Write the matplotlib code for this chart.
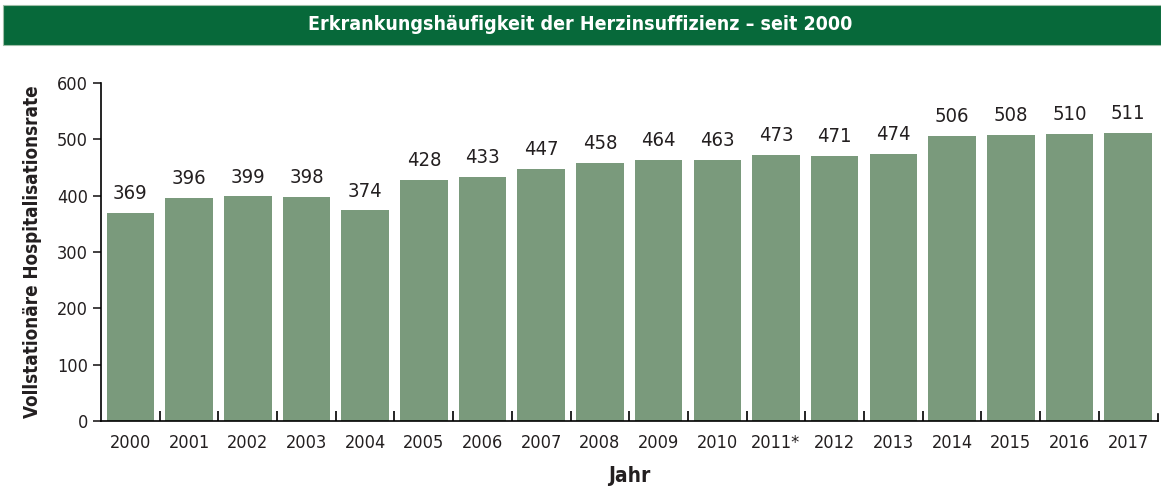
import numpy as np
import matplotlib.pyplot as plt
from matplotlib.patches import Rectangle

# Daten
jahre = ['2000', '2001', '2002', '2003', '2004', '2005', '2006', '2007', '2008',
         '2009', '2010', '2011*', '2012', '2013', '2014', '2015', '2016', '2017']
rate = [369, 396, 399, 398, 374, 428, 433, 447, 458,
        464, 463, 473, 471, 474, 506, 508, 510, 511]

plt.rcParams['font.family'] = ['DejaVu Sans']
plt.rcParams['font.stretch'] = 'condensed'
textfarbe = '#231f20'

fig = plt.figure(figsize=(11.61, 4.88), dpi=100)

# Titelbalken
fig.patches.append(Rectangle((0.003, 0.908), 0.997, 0.082, transform=fig.transFigure,
                             facecolor='#07693a', edgecolor='#9fbfa8', linewidth=0.8))
fig.text(0.5, 0.949, 'Erkrankungshäufigkeit der Herzinsuffizienz – seit 2000',
         color='white', fontsize=14, fontweight='bold', ha='center', va='center')

ax = fig.add_axes([0.087, 0.137, 0.910, 0.693])
x = np.arange(len(jahre))
balken = ax.bar(x, rate, width=0.81, color='#7a9a7c')
ax.bar_label(balken, padding=7, fontsize=14.5, color=textfarbe)

ax.set_xlim(-0.5, len(jahre) - 0.5)
ax.set_ylim(0, 600)
ax.set_yticks(range(0, 601, 100))
ax.tick_params(axis='y', labelsize=13, length=6, width=1.2, colors=textfarbe)
ax.set_xticks(x)
ax.set_xticklabels(jahre, fontsize=13, color=textfarbe)
ax.tick_params(axis='x', length=0, pad=9)
ax.set_xticks(x[1:] - 0.5, minor=True)
ax.tick_params(axis='x', which='minor', direction='in', length=7, width=1.2)
ax.plot([len(jahre) - 0.5] * 2, [0, 12], color='black', lw=1.2, clip_on=False)

for s in ['top', 'right']:
    ax.spines[s].set_visible(False)
for s in ['left', 'bottom']:
    ax.spines[s].set_linewidth(1.2)

ax.set_ylabel('Vollstationäre Hospitalisationsrate', fontsize=13.5, fontweight='bold',
              labelpad=11, color=textfarbe)
ax.set_xlabel('Jahr', fontsize=15, fontweight='bold', labelpad=10, color=textfarbe)

fig.savefig('out.png', dpi=100)
